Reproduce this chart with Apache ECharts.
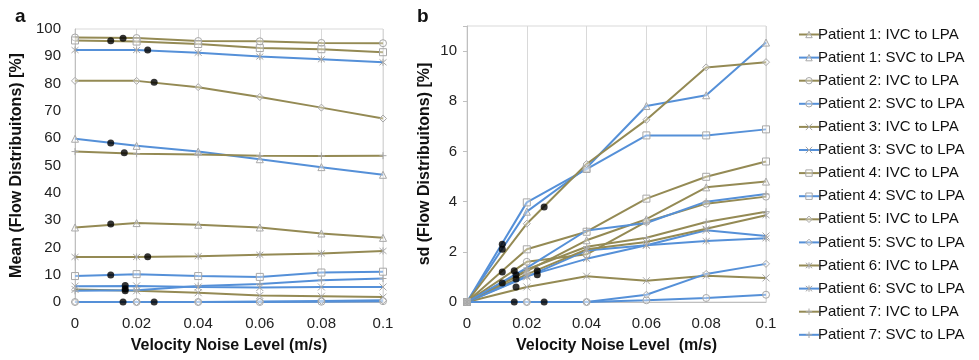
<!DOCTYPE html>
<html>
<head>
<meta charset="utf-8">
<script src="https://cdn.jsdelivr.net/npm/echarts@6/dist/echarts.min.js"></script>
<style>html,body{margin:0;padding:0;background:#fff}#c{width:979px;height:360px}</style>
</head>
<body>
<div id="c"></div>
<script>
// ---------- data ----------
const noiseLevels = [0, 0.02, 0.04, 0.06, 0.08, 0.1];
const seriesNames = [
  'Patient 1: IVC to LPA', 'Patient 1: SVC to LPA',
  'Patient 2: IVC to LPA', 'Patient 2: SVC to LPA',
  'Patient 3: IVC to LPA', 'Patient 3: SVC to LPA',
  'Patient 4: IVC to LPA', 'Patient 4: SVC to LPA',
  'Patient 5: IVC to LPA', 'Patient 5: SVC to LPA',
  'Patient 6: IVC to LPA', 'Patient 6: SVC to LPA',
  'Patient 7: IVC to LPA', 'Patient 7: SVC to LPA'
];
// mean of flow distribution [%]
const meanP1IVC = [27.3, 28.9, 28.3, 27.3, 25.1, 23.5];
const meanP1SVC = [59.8, 57.2, 55.1, 52.3, 49.4, 46.6];
const meanP2IVC = [96.9, 96.7, 95.6, 95.5, 94.9, 94.8];
const meanP2SVC = [0.0, 0.0, 0.0, 0.0, 0.1, 0.3];
const meanP3IVC = [4.6, 4.1, 3.4, 2.4, 2.1, 1.8];
const meanP3SVC = [5.8, 5.9, 5.5, 5.3, 5.5, 5.5];
const meanP4IVC = [95.8, 95.4, 94.5, 93.0, 92.6, 91.5];
const meanP4SVC = [9.5, 10.2, 9.5, 9.2, 10.8, 11.1];
const meanP5IVC = [81.0, 81.0, 78.7, 75.1, 71.2, 67.2];
const meanP5SVC = [0.0, 0.0, 0.0, 0.2, 0.4, 0.6];
const meanP6IVC = [16.5, 16.5, 16.8, 17.3, 17.8, 18.7];
const meanP6SVC = [92.3, 92.3, 91.3, 89.9, 88.9, 87.8];
const meanP7IVC = [55.1, 54.3, 54.0, 53.6, 53.5, 53.6];
const meanP7SVC = [4.1, 4.3, 5.9, 6.6, 8.0, 8.6];
// sd of flow distribution [%]
const sdP1IVC = [0, 1.23, 2.46, 3.30, 4.57, 4.80];
const sdP1SVC = [0, 3.60, 5.35, 7.81, 8.24, 10.34];
const sdP2IVC = [0, 1.60, 1.90, 3.20, 3.92, 4.20];
const sdP2SVC = [0, 0, 0, 0.07, 0.16, 0.29];
const sdP3IVC = [0, 0.60, 1.03, 0.85, 1.05, 0.96];
const sdP3SVC = [0, 1.00, 2.05, 2.26, 2.86, 2.63];
const sdP4IVC = [0, 2.10, 2.80, 4.12, 4.99, 5.60];
const sdP4SVC = [0, 3.97, 5.30, 6.64, 6.64, 6.88];
const sdP5IVC = [0, 3.12, 5.50, 7.26, 9.35, 9.56];
const sdP5SVC = [0, 0, 0, 0.29, 1.12, 1.52];
const sdP6IVC = [0, 1.10, 2.10, 2.39, 2.92, 3.46];
const sdP6SVC = [0, 1.03, 1.72, 2.26, 2.43, 2.54];
const sdP7IVC = [0, 1.30, 2.20, 2.56, 3.19, 3.60];
const sdP7SVC = [0, 1.36, 2.85, 3.15, 4.00, 4.30];
// black dots
const meanDotX = [0.0116, 0.0156, 0.0236, 0.0257, 0.0116, 0.0160, 0.0116, 0.0236, 0.0116, 0.0163, 0.0163, 0.0163, 0.0156, 0.0257];
const meanDotY = [95.7, 96.6, 92.3, 80.5, 58.2, 54.7, 28.6, 16.6, 9.9, 6.0, 4.8, 4.1, 0, 0];
const sdDotX = [0.0118, 0.0118, 0.0118, 0.0118, 0.0158, 0.0164, 0.0164, 0.0164, 0.0158, 0.0258, 0.0235, 0.0235, 0.0258];
const sdDotY = [2.30, 2.10, 1.20, 0.76, 1.25, 1.09, 0.92, 0.60, 0, 3.79, 1.25, 1.09, 0];
// tick labels
const xTickValues = [0, 0.02, 0.04, 0.06, 0.08, 0.1];

const meanData = [meanP1IVC, meanP1SVC, meanP2IVC, meanP2SVC, meanP3IVC, meanP3SVC, meanP4IVC, meanP4SVC, meanP5IVC, meanP5SVC, meanP6IVC, meanP6SVC, meanP7IVC, meanP7SVC];
const sdData = [sdP1IVC, sdP1SVC, sdP2IVC, sdP2SVC, sdP3IVC, sdP3SVC, sdP4IVC, sdP4SVC, sdP5IVC, sdP5SVC, sdP6IVC, sdP6SVC, sdP7IVC, sdP7SVC];

// ---------- styles ----------
const OLIVE = '#948a54';
const BLUE = '#5590d8';
const MARK = '#a8a8a8';
const symbols = [
  'triangle',
  'circle',
  'path://M0,0L10,10M10,0L0,10',
  'rect',
  'diamond',
  'path://M0,0L10,10M10,0L0,10M5,-1L5,11',
  'path://M5,0L5,10M0,5L10,5'
];
const FONT = 'Liberation Sans';

function makeLine(i, data, gi) {
  const patient = Math.floor(i / 2);
  const color = i % 2 === 0 ? OLIVE : BLUE;
  const isPath = symbols[patient].startsWith('path');
  return {
    name: seriesNames[i],
    type: 'line',
    xAxisIndex: gi, yAxisIndex: gi,
    data: noiseLevels.map((x, k) => [x, data[k]]),
    symbol: symbols[patient],
    symbolSize: 7,
    showAllSymbol: true,
    lineStyle: { color: color, width: 2 },
    itemStyle: { color: isPath ? 'rgba(255,255,255,0)' : 'rgba(255,255,255,0.35)', borderColor: MARK, borderWidth: 1 },
    emphasis: { disabled: true },
    animation: false,
    z: 2
  };
}

const series = [];
for (let i = 0; i < 14; i++) series.push(makeLine(i, meanData[i], 0));
for (let i = 0; i < 14; i++) series.push(makeLine(i, sdData[i], 1));
series.push({
  type: 'scatter', name: 'dotsMean', xAxisIndex: 0, yAxisIndex: 0,
  data: meanDotX.map((x, k) => [x, meanDotY[k]]),
  symbol: 'circle', symbolSize: 7, itemStyle: { color: '#000' }, z: 5, animation: false
});
series.push({
  type: 'scatter', name: 'dotsSd', xAxisIndex: 1, yAxisIndex: 1,
  data: sdDotX.map((x, k) => [x, sdDotY[k]]),
  symbol: 'circle', symbolSize: 7, itemStyle: { color: '#000' }, z: 5, animation: false
});

function xAxis(gi, name) {
  return {
    gridIndex: gi, type: 'value', min: 0, max: 0.1, interval: 0.02,
    name: name, nameLocation: 'middle', nameGap: 36,
    nameTextStyle: { fontFamily: FONT, fontSize: 16, fontWeight: 'bold', color: '#111' },
    axisLine: { show: true, lineStyle: { color: '#bfbfbf' } },
    axisTick: { show: false },
    axisLabel: { fontFamily: FONT, fontSize: 15, color: '#222', margin: 14,
      formatter: v => { const t = xTickValues.find(u => Math.abs(u - v) < 1e-9); return t === undefined ? '' : String(t); } },
    splitLine: { show: true, lineStyle: { color: '#d9d9d9', width: 1 } }
  };
}

const option = {
  animation: false,
  backgroundColor: '#fff',
  title: [
    { text: 'a', left: 10, top: 2, textStyle: { fontFamily: FONT, fontSize: 19, fontWeight: 'bold', color: '#111' } },
    { text: 'b', left: 412, top: 2, textStyle: { fontFamily: FONT, fontSize: 19, fontWeight: 'bold', color: '#111' } }
  ],
  grid: [
    { left: 75, right: 596, top: 29, bottom: 58, show: true, borderColor: '#d9d9d9', borderWidth: 1, backgroundColor: 'transparent' },
    { left: 467, right: 213, top: 26, bottom: 58, show: true, borderColor: '#d9d9d9', borderWidth: 1, backgroundColor: 'transparent' }
  ],
  xAxis: [xAxis(0, 'Velocity Noise Level (m/s)'), xAxis(1, 'Velocity Noise Level  (m/s)')],
  yAxis: [
    { gridIndex: 0, type: 'value', min: 0, max: 100, interval: 10,
      name: 'Mean (Flow Distribuitons) [%]', nameLocation: 'middle', nameGap: 50,
      nameTextStyle: { fontFamily: FONT, fontSize: 16, fontWeight: 'bold', color: '#111' },
      axisLine: { show: true, lineStyle: { color: '#bfbfbf' } },
      axisTick: { show: false },
      axisLabel: { fontFamily: FONT, fontSize: 15, color: '#222', margin: 14 },
      splitLine: { show: false } },
    { gridIndex: 1, type: 'value', min: 0, max: 11, interval: 2,
      name: 'sd (Flow Distribuitons) [%]', nameLocation: 'middle', nameGap: 34,
      nameTextStyle: { fontFamily: FONT, fontSize: 16, fontWeight: 'bold', color: '#111' },
      axisLine: { show: true, lineStyle: { color: '#bfbfbf' } },
      axisTick: { show: true, length: 4, lineStyle: { color: '#bfbfbf' } },
      axisLabel: { fontFamily: FONT, fontSize: 15, color: '#222', margin: 10,
        formatter: v => (v === 11 ? '' : String(v)) },
      splitLine: { show: false } }
  ],
  legend: {
    data: seriesNames,
    orient: 'vertical', left: 793, top: 22, padding: 5,
    itemWidth: 20, itemHeight: 8, itemGap: 8.1,
    itemStyle: { borderWidth: 1 },
    textStyle: { fontFamily: FONT, fontSize: 15, lineHeight: 14, color: '#111', padding: [0, 0, 0, -6] },
    selectedMode: false
  },
  series: series
};

const chart = echarts.init(document.getElementById('c'), null, { renderer: 'canvas' });
chart.setOption(option);
</script>
</body>
</html>
